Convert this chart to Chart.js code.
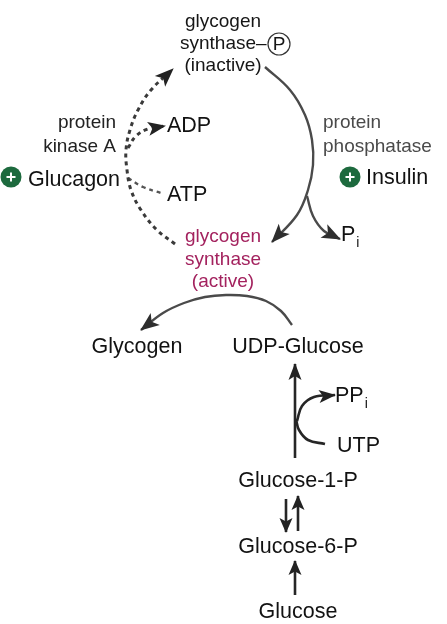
<!DOCTYPE html>
<html>
<head>
<meta charset="utf-8">
<script src="https://cdn.jsdelivr.net/npm/chart.js@4"></script>
<style>
html,body{margin:0;padding:0;background:#fff;}
#wrap{position:relative;width:447px;height:624px;}
</style>
</head>
<body>
<div id="wrap"><canvas id="c"></canvas></div>
<script>
// ---- data: node labels (diagram coordinates, y downward) ----
const labelText = ['glycogen','synthase\u2013','(inactive)','protein','kinase A','Glucagon','ADP','ATP',
  'protein','phosphatase','Insulin','P','glycogen','synthase','(active)',
  'Glycogen','UDP-Glucose','PP','UTP','Glucose-1-P','Glucose-6-P','Glucose'];
const labelX = [223,180,223,116,116,28,167,167,323,323,366,341,223,223,223,137,298,335,337,298,298,298];
const labelY = [27,49,71,128,152,186,132,201,128,152,184,241,242,265,287,353,353,402,452,487,553,618];
const labelSub = ['','','','','','','','','','','','i','','','','','','i','','','',''];
const labelKind = ['s','sl','s','kr','kr','ml','ml','ml','gl','gl','ml','ml','a','a','a','m','m','ml','ml','m','m','m'];

// circled phosphate & activator markers
const phosCircle = [[279,44]];
const activators = [[11,177],[350,177]];

// ---- data: reaction paths (diagram coordinates) ----
const pathDephos = [[265,67],[290,90],[305,115],[312,140],[313,165],[308,190],[297,215],[272,242]];
const pathPi     = [[307,196],[313,216],[324,231],[340,239]];
const pathPhos   = [[175,244],[157,230],[141,210],[131,190],[127,170],[126,150],[130,130],[138,110],[151,90],[173,69]];
const pathADP    = [[128,148],[136,136],[148,129],[165,126]];
const pathATP    = [[128,178],[143,187],[161,193]];
const pathGlyc   = [[292,325],[281,311],[266,301],[247,296],[226,295],[205,297],[184,303],[163,313],[141,330]];
const pathUDP    = [[295,458],[295,364]];
const pathPPi    = [[297,421],[302,406],[314,397],[335,395]];
const pathUTP    = [[325,444],[308,440],[299,430],[296,419]];
const pathG6Pdn  = [[286,499],[286,532]];
const pathG6Pup  = [[298,531],[298,496]];
const pathGlc    = [[295,595],[295,561]];

const toPts = a => a.map(p => ({x:p[0], y:p[1]}));

function lineDs(path, opts){
  return Object.assign({
    type:'line', data: toPts(path), showLine:true, pointRadius:0, pointHoverRadius:0,
    borderColor:'#4a4a4a', borderWidth:2.4, tension:0.4, fill:false, arrow:true,
    arrowColor:'#2e2e2e', arrowL:18, arrowW:7.5
  }, opts||{});
}

const dashed = {borderColor:'#3a3a3a', borderDash:[4,4], borderWidth:3, arrowColor:'#222'};
const dark = {borderColor:'#262626', arrowColor:'#222', borderWidth:2.6, arrowL:16, arrowW:6.5};

const datasets = [
  lineDs(pathDephos),
  lineDs(pathPi),
  lineDs(pathPhos, Object.assign({}, dashed)),
  lineDs(pathADP, Object.assign({}, dashed, {arrowL:17, arrowW:7})),
  lineDs(pathATP, Object.assign({}, dashed, {borderColor:'#555', borderWidth:2.4, arrow:false})),
  lineDs(pathGlyc),
  lineDs(pathUDP, Object.assign({}, dark, {tension:0})),
  lineDs(pathPPi, Object.assign({}, dark)),
  lineDs(pathUTP, Object.assign({}, dark, {arrow:false})),
  lineDs(pathG6Pdn, Object.assign({}, dark, {tension:0, arrowL:14})),
  lineDs(pathG6Pup, Object.assign({}, dark, {tension:0, arrowL:14})),
  lineDs(pathGlc, Object.assign({}, dark, {tension:0, arrowL:14}))
];

const F = '"Liberation Sans", Arial, sans-serif';
const styles = {
  s:  {font:'19px '+F, color:'#161616', align:'center'},
  sl: {font:'19px '+F, color:'#161616', align:'left'},
  kr: {font:'19px '+F, color:'#222', align:'right'},
  gl: {font:'19px '+F, color:'#4a4a4a', align:'left'},
  a:  {font:'19px '+F, color:'#a3225e', align:'center'},
  m:  {font:'21.5px '+F, color:'#121212', align:'center'},
  ml: {font:'21.5px '+F, color:'#121212', align:'left'}
};

const diagramPlugin = {
  id:'diagram',
  afterDatasetsDraw(chart){
    const ctx = chart.ctx, xs = chart.scales.x, ys = chart.scales.y;
    const px = v => xs.getPixelForValue(v), py = v => ys.getPixelForValue(v);
    ctx.save();
    // arrowheads
    chart.data.datasets.forEach((ds,i)=>{
      if(!ds.arrow) return;
      const pts = chart.getDatasetMeta(i).data;
      const a = pts[pts.length-2], b = pts[pts.length-1];
      const ang = Math.atan2(b.y-a.y, b.x-a.x);
      const L = ds.arrowL, W = ds.arrowW;
      ctx.save();
      ctx.translate(b.x, b.y); ctx.rotate(ang);
      ctx.beginPath();
      ctx.moveTo(1,0);
      ctx.lineTo(-L, -W);
      ctx.lineTo(-L*0.75, 0);
      ctx.lineTo(-L, W);
      ctx.closePath();
      ctx.fillStyle = ds.arrowColor; ctx.fill();
      ctx.restore();
    });
    // labels
    ctx.textBaseline = 'alphabetic';
    labelText.forEach((t,i)=>{
      const st = styles[labelKind[i]];
      ctx.font = st.font; ctx.fillStyle = st.color; ctx.textAlign = st.align;
      const x = px(labelX[i]), y = py(labelY[i]);
      ctx.fillText(t, x, y);
      if(labelSub[i]){
        const w = ctx.measureText(t).width;
        const endX = st.align==='left' ? x+w : (st.align==='center' ? x+w/2 : x);
        ctx.font = '14px '+F;
        ctx.textAlign = 'left';
        ctx.fillText(labelSub[i], endX+1, y+6);
      }
    });
    // circled phosphate
    phosCircle.forEach(p=>{
      const x = px(p[0]), y = py(p[1]);
      ctx.beginPath(); ctx.arc(x, y, 11, 0, Math.PI*2);
      ctx.strokeStyle = '#333'; ctx.lineWidth = 1.2; ctx.setLineDash([]); ctx.stroke();
      ctx.font = '19px '+F;
      ctx.fillStyle = '#161616'; ctx.textAlign = 'center'; ctx.textBaseline = 'middle';
      ctx.fillText('P', x, y+1);
    });
    // activator (+) markers
    activators.forEach(p=>{
      const x = px(p[0]), y = py(p[1]);
      ctx.beginPath(); ctx.arc(x, y, 10.5, 0, Math.PI*2);
      ctx.fillStyle = '#1d6a3e'; ctx.fill();
      ctx.strokeStyle = '#fff'; ctx.lineWidth = 2;
      ctx.beginPath();
      ctx.moveTo(x-4.5, y); ctx.lineTo(x+4.5, y);
      ctx.moveTo(x, y-4.5); ctx.lineTo(x, y+4.5);
      ctx.stroke();
    });
    ctx.restore();
  }
};

new Chart(document.getElementById('c'), {
  type:'scatter',
  data:{ datasets },
  options:{
    responsive:true, maintainAspectRatio:false, animation:false,
    layout:{padding:0},
    plugins:{legend:{display:false}, tooltip:{enabled:false}},
    events:[],
    scales:{
      x:{type:'linear', min:0, max:447, display:false},
      y:{type:'linear', min:0, max:624, reverse:true, display:false}
    }
  },
  plugins:[diagramPlugin]
});
</script>
</body>
</html>
